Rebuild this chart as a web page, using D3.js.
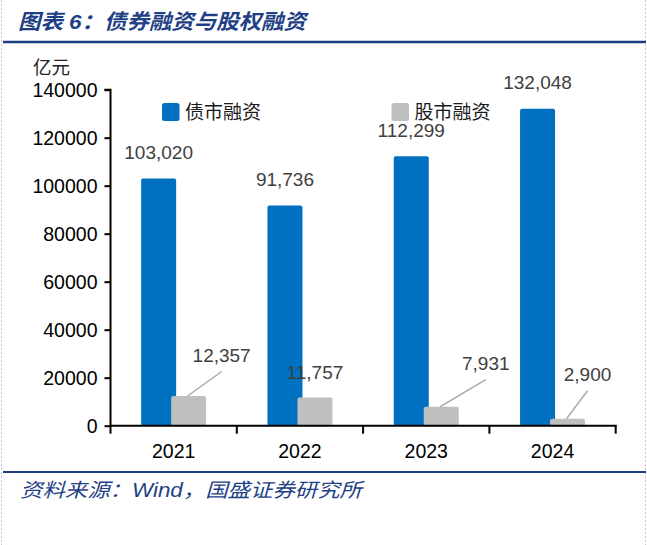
<!DOCTYPE html>
<html>
<head>
<meta charset="utf-8">
<script src="https://cdn.jsdelivr.net/npm/d3@7/dist/d3.min.js"></script>
<style>
  html, body { margin: 0; padding: 0; background: #fff; }
  svg { display: block; }
</style>
</head>
<body>
<svg id="chart" width="647" height="545"></svg>
<script>
// ---- data ----
const categories = ["2021", "2022", "2023", "2024"];
const bondValues = [103020, 91736, 112299, 132048];
const equityValues = [12357, 11757, 7931, 2900];
const seriesNames = ["债市融资", "股市融资"];
const yTicks = [0, 20000, 40000, 60000, 80000, 100000, 120000, 140000];
const titleText = "图表 6：债券融资与股权融资";
const sourceText = "资料来源：Wind，国盛证券研究所";
const unitText = "亿元";

// label placement for equity labels (offset from bar top centre, leader line flag)
const equityLabelOffsets = [
  { dx: 33, dy: -41, leader: true },
  { dx: 0, dy: -25, leader: false },
  { dx: 44.5, dy: -43.5, leader: true },
  { dx: 20, dy: -44.5, leader: true }
];

const W = 647, H = 545;
const navy = "#1F3F86";
const blue = "#0070C0";
const grey = "#BFBFBF";
const numFont = "'Liberation Sans', Arial, sans-serif";
const cjkFont = "'Liberation Sans', 'Noto Sans CJK SC', sans-serif";

const svg = d3.select("#chart");

// page frame: dashed side borders
svg.append("line").attr("x1", 1.5).attr("x2", 1.5).attr("y1", 0).attr("y2", H)
  .attr("stroke", "#c8c8c8").attr("stroke-width", 1).attr("stroke-dasharray", "2,2");
svg.append("line").attr("x1", 645.5).attr("x2", 645.5).attr("y1", 0).attr("y2", H)
  .attr("stroke", "#c8c8c8").attr("stroke-width", 1).attr("stroke-dasharray", "2,2");

// title
svg.append("text")
  .attr("x", 18).attr("y", 29)
  .attr("font-family", cjkFont)
  .attr("font-size", 21).attr("font-weight", "bold").attr("font-style", "italic")
  .attr("fill", navy)
  .attr("textLength", 288).attr("lengthAdjust", "spacingAndGlyphs")
  .text(titleText);
svg.append("line").attr("x1", 3).attr("x2", 646).attr("y1", 42).attr("y2", 42)
  .attr("stroke", "#1B3F7E").attr("stroke-width", 2.5);

// bottom rule and source
svg.append("line").attr("x1", 3).attr("x2", 646).attr("y1", 472).attr("y2", 472)
  .attr("stroke", "#1B3F7E").attr("stroke-width", 2);
svg.append("text")
  .attr("x", 20).attr("y", 497)
  .attr("font-family", cjkFont)
  .attr("font-size", 19.5).attr("font-style", "italic")
  .attr("fill", navy)
  .attr("textLength", 342).attr("lengthAdjust", "spacingAndGlyphs")
  .text(sourceText);

// scales
const x0 = 110.5, x1 = 615.7, yBase = 425.7, yTop = 89.7;
const x = d3.scaleBand().domain(categories).range([x0, x1]).paddingInner(0).paddingOuter(0);
const y = d3.scaleLinear().domain([0, 140000]).range([yBase, yTop]);
const bw = x.bandwidth();
const barW = 35;
const center = c => x(c) + bw / 2;

// bars: blue
svg.append("g").selectAll("rect")
  .data(categories)
  .join("rect")
  .attr("x", c => center(c) - 32.5)
  .attr("width", barW)
  .attr("y", (c, i) => y(bondValues[i]))
  .attr("height", (c, i) => yBase - y(bondValues[i]))
  .attr("rx", 2)
  .attr("fill", blue);

// bars: grey
svg.append("g").selectAll("rect")
  .data(categories)
  .join("rect")
  .attr("x", c => center(c) - 2.5)
  .attr("width", barW)
  .attr("y", (c, i) => y(equityValues[i]))
  .attr("height", (c, i) => yBase - y(equityValues[i]))
  .attr("rx", 2)
  .attr("fill", grey);

const fmt = d3.format(",");

// bond labels
svg.append("g").selectAll("text")
  .data(categories)
  .join("text")
  .attr("x", c => center(c) - 32.5 + barW / 2)
  .attr("y", (c, i) => y(bondValues[i]) - 19.5)
  .attr("text-anchor", "middle")
  .attr("font-family", numFont).attr("font-size", 19)
  .attr("fill", "#404040")
  .text((c, i) => fmt(bondValues[i]));

// equity labels with leader lines
categories.forEach((c, i) => {
  const bx = center(c) - 2.5 + barW / 2;
  const by = y(equityValues[i]);
  const o = equityLabelOffsets[i];
  const lx = bx + o.dx, ly = by + o.dy;
  if (o.leader) {
    svg.append("line")
      .attr("x1", lx).attr("y1", ly + 16.5)
      .attr("x2", bx - 1).attr("y2", by)
      .attr("stroke", "#A6A6A6").attr("stroke-width", 1.3);
  }
  svg.append("text")
    .attr("x", lx).attr("y", ly + 7)
    .attr("text-anchor", "middle")
    .attr("font-family", numFont).attr("font-size", 19)
    .attr("fill", "#404040")
    .text(fmt(equityValues[i]));
});

// y axis
const yAxis = d3.axisLeft(y).tickValues(yTicks).tickSize(6).tickPadding(7)
  .tickFormat(d3.format("d"));
const gy = svg.append("g").attr("transform", `translate(${x0},0)`).call(yAxis);
gy.select(".domain").attr("stroke", "#000").attr("stroke-width", 2)
  .attr("d", `M-6,${yTop}H0V${yBase}`);
gy.selectAll(".tick line").attr("stroke", "#000").attr("stroke-width", 2);
gy.selectAll(".tick text").attr("font-family", numFont).attr("font-size", 19.5)
  .attr("fill", "#000").attr("dy", "0.35em");

// x axis
const gx = svg.append("g");
gx.append("line").attr("x1", x0 - 1).attr("x2", x1 + 1).attr("y1", yBase).attr("y2", yBase)
  .attr("stroke", "#000").attr("stroke-width", 2);
const boundaries = categories.map(c => x(c)).concat([x1]);
gx.selectAll("line.tk").data(boundaries).join("line").attr("class", "tk")
  .attr("x1", d => d).attr("x2", d => d).attr("y1", yBase).attr("y2", yBase + 8)
  .attr("stroke", "#000").attr("stroke-width", 2);
gx.selectAll("text").data(categories).join("text")
  .attr("x", c => center(c)).attr("y", 458)
  .attr("text-anchor", "middle")
  .attr("font-family", numFont).attr("font-size", 19.5)
  .attr("fill", "#000")
  .text(c => c);

// unit label
svg.append("text").attr("x", 33).attr("y", 74)
  .attr("font-family", "'Noto Sans CJK SC', sans-serif").attr("font-size", 18.5)
  .attr("fill", "#262626").text(unitText);

// legend
const legendItems = [
  { name: seriesNames[0], color: blue, x: 162 },
  { name: seriesNames[1], color: grey, x: 391.5 }
];
const lg = svg.append("g");
legendItems.forEach(it => {
  lg.append("rect").attr("x", it.x).attr("y", 103).attr("width", 17.5).attr("height", 18)
    .attr("rx", 2.5).attr("fill", it.color);
  lg.append("text").attr("x", it.x + 23).attr("y", 118.5)
    .attr("font-family", "'Noto Sans CJK SC', sans-serif").attr("font-size", 19)
    .attr("fill", "#1a1a1a").text(it.name);
});
</script>
</body>
</html>
